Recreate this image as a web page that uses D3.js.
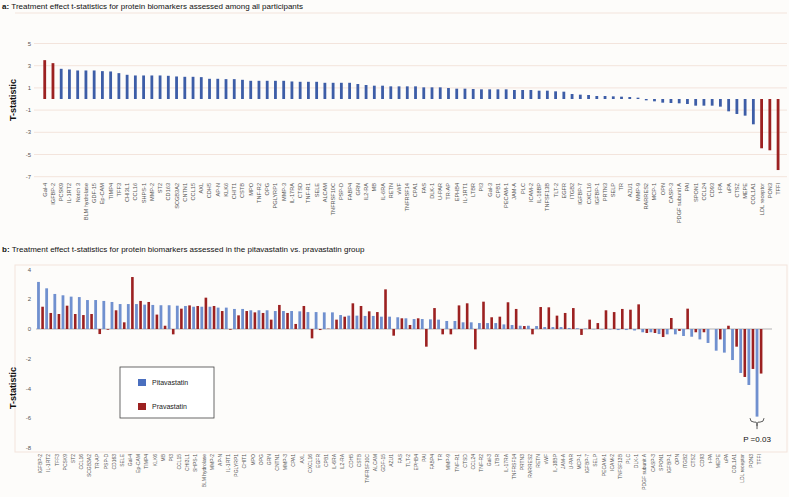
<!DOCTYPE html>
<html><head><meta charset="utf-8">
<script src="https://cdn.jsdelivr.net/npm/d3@7"></script>
<style>html,body{margin:0;padding:0;background:#fdfcfa;}svg{display:block;font-family:"Liberation Sans",Arial,sans-serif;}</style>
</head><body>
<svg id="chart" width="789" height="497"></svg>
<script>
// ---------- Panel a data ----------
const topCategories = ["Gal-4","IGFBP-2","PCSK9","IL-1RT2","Notch 3","BLM hydrolase","GDF-15","Ep-CAM","TIMP4","TFF3",
"CHI3L1","CCL16","SHPS-1","MMP-2","ST2","CD163","SCGB3A2","CNTN1","CCL15","AXL",
"CDH5","AP-N","KLK6","CHIT1","CSTB","MPO","TNF-R2","OPG","PGLYRP1","MMP-3",
"IL-17RA","CTSD","TNF-R1","SELE","ALCAM","TNFRSF10C","PSP-D","FABP4","GRN","IL2-RA",
"MB","IL-6RA","RETN","vWF","TNFRSF14","CPA1","FAS","DLK-1","U-PAR","TR-AP",
"EPHB4","IL-1RT1","LTBR","PI3","Gal-3","CPB1","PECAM-1","JAM-A","PLC","ICAM-2",
"IL-18BP","TNFSF13B","TLT-2","EGFR","ITGB2","IGFBP-7","CXCL16","IGFBP-1","PRTN3","SELP",
"TR","AZU1","MMP-9","RARRES2","MCP-1","OPN","CASP-3","PDGF subunit A","PAI","SPON1",
"CCL24","CD93","t-PA","uPA","CTSZ","MEPE","COL1A1","LDL receptor","PON3","TFFI"];
const topValues = [3.50,3.23,2.72,2.66,2.57,2.57,2.57,2.51,2.48,2.33,
2.18,2.12,2.12,2.12,2.12,2.09,2.03,2.00,2.00,1.97,
1.82,1.82,1.79,1.79,1.73,1.64,1.64,1.64,1.64,1.64,
1.58,1.55,1.55,1.55,1.46,1.46,1.46,1.46,1.35,1.26,
1.20,1.20,1.14,1.14,1.14,1.14,1.05,1.05,1.05,0.99,
0.93,0.93,0.90,0.87,0.87,0.87,0.87,0.81,0.81,0.81,
0.75,0.75,0.69,0.66,0.45,0.39,0.36,0.27,0.27,0.24,
0.21,0.18,0.12,-0.12,-0.21,-0.33,-0.36,-0.39,-0.45,-0.60,
-0.60,-0.60,-0.69,-1.11,-1.35,-1.50,-2.28,-4.44,-4.62,-6.40];
const topSignificant = ["Gal-4","IGFBP-2","LDL receptor","PON3","TFFI"];
const topTicks = [5,3,1,-1,-3,-5,-7];

// ---------- Panel b data ----------
const botCategories = ["IGFBP-2","IL-1RT2","TFF3","PCSK9","ST2","CCL16","SCGB3A2","TR-AP","PSP-D","CD163",
"SELE","Gal-4","Ep-CAM","TIMP4","KLK6","MB","PI3","CCL15","CHI3L1","SHPS-1",
"BLM hydrolase","MMP-2","AP-N","IL-1RT1","PGLYRP1","CHIT1","MPO","OPG","GRN","CNTN1",
"MMP-3","CPA1","AXL","CXCL16","EGFR","CPB1","IL-6RA","IL2-RA","CDH5","CSTB",
"TNFRSF10C","ALCAM","GDF-15","AZU1","FAS","TLT-2","EPHB4","PAI","FABP4","TR",
"MMP-9","TNF-R1","CTSD","CCL24","TNF-R2","Gal-3","LTBR","IL-17RA","TNFRSF14","PRTN3",
"RARRES2","RETN","vWF","IL-18BP","JAM-A","U-PAR","MCP-1","IGFBP-7","SELP","PECAM-1",
"ICAM-2","TNFSF13B","PLC","DLK-1","PDGF subunit A","CASP-3","SPON1","IGFBP-1","OPN","ITGB2",
"CTSZ","CD93","t-PA","MEPE","uPA","COL1A1","LDL receptor","PON3","TFFI"];
const pitavastatin = [3.17,2.74,2.36,2.27,2.18,2.15,1.95,1.95,1.89,1.82,
1.68,1.68,1.68,1.64,1.62,1.60,1.60,1.57,1.55,1.50,
1.50,1.50,1.44,1.44,1.35,1.35,1.26,1.26,1.26,1.21,
1.21,1.21,1.19,1.14,1.14,1.12,1.12,0.94,0.90,0.90,
0.88,0.88,0.83,0.83,0.79,0.72,0.67,0.67,0.65,0.63,
0.54,0.54,0.45,0.45,0.40,0.40,0.40,0.31,0.27,0.22,
0.22,0.20,0.13,0.13,0.13,0.07,0.05,0.03,-0.02,-0.03,
-0.03,-0.07,-0.07,-0.10,-0.22,-0.22,-0.34,-0.36,-0.36,-0.47,
-0.52,-0.70,-0.94,-1.46,-1.59,-2.09,-2.96,-3.77,-5.90];
const pravastatin = [1.50,1.08,1.01,1.57,1.01,0.94,1.01,-0.34,-0.05,1.26,
0.45,3.50,1.89,1.82,0.97,0.22,-0.36,1.37,1.59,1.55,
2.11,1.55,1.21,-0.05,0.92,1.21,1.12,1.08,0.63,1.62,
1.08,0.34,1.55,-0.63,-0.07,0.02,0.63,0.83,1.73,1.55,
1.19,1.14,2.67,-0.45,0.72,0.27,0.72,-1.19,1.41,-0.36,
-0.36,1.59,1.73,-1.37,1.84,0.79,0.83,1.80,1.35,0.20,
-0.36,1.48,1.46,0.90,1.08,1.41,-0.40,0.63,0.40,1.26,
1.14,1.35,1.30,1.66,-0.27,-0.27,-0.54,0.74,-0.13,1.37,
-0.22,-0.22,0.00,-0.70,0.22,-1.19,-3.23,-2.69,-3.00];
const botTicks = [4,2,0,-2,-4,-6,-8];
const seriesNames = ["Pitavastatin","Pravastatin"];
const pAnnotation = "P =0.03";

// ---------- drawing ----------
const svg = d3.select("#chart");
const BLUE = "#3d5da7", RED = "#9c2121", LBLUE = "#7090cf", GRID = "#f3e4dc";

function title(y, tag, text) {
  const t = svg.append("text").attr("x", 2).attr("y", y).attr("font-size", 8).attr("fill", "#111");
  t.append("tspan").attr("font-weight", "bold").text(tag + ": ");
  t.append("tspan").text(text);
}
title(9, "a", "Treatment  effect t-statistics for protein biomarkers assessed among all participants");
title(252, "b", "Treatment effect t-statistics for protein biomarkers assessed in the pitavastatin vs. pravastatin group");

// Panel a
const xA = d3.scaleBand().domain(topCategories).range([40.6, 782.2]);
const yA = d3.scaleLinear().domain([-7, 7]).range([176.7, 21.3]);
svg.append("line").attr("x1", 15).attr("x2", 787).attr("y1", 13).attr("y2", 13).attr("stroke", GRID);
const gA = svg.append("g");
gA.selectAll("line.grid").data(topTicks).join("line").attr("class", "grid")
  .attr("x1", 34).attr("x2", 787).attr("y1", d => yA(d)).attr("y2", d => yA(d))
  .attr("stroke", GRID).attr("stroke-width", 1);
gA.selectAll("text.tick").data(topTicks).join("text").attr("class", "tick")
  .attr("x", 31).attr("y", d => yA(d)).attr("dy", "0.35em").attr("text-anchor", "end")
  .attr("font-size", 6).attr("fill", "#555").text(d => d);
gA.selectAll("rect.bar").data(topCategories).join("rect").attr("class", "bar")
  .attr("x", d => xA(d) + xA.bandwidth() / 2 - 1.4).attr("width", 2.8)
  .attr("y", (d, i) => yA(Math.max(0, topValues[i])))
  .attr("height", (d, i) => Math.abs(yA(topValues[i]) - yA(0)))
  .attr("fill", d => topSignificant.includes(d) ? RED : BLUE);
gA.selectAll("text.xl").data(topCategories).join("text").attr("class", "xl")
  .attr("transform", d => `translate(${xA(d) + xA.bandwidth() / 2},183) rotate(-90)`)
  .attr("dy", "0.35em").attr("text-anchor", "end").attr("font-size", 5.6).attr("fill", "#555").text(d => d);
svg.append("text").attr("transform", "translate(16,100) rotate(-90)").attr("text-anchor", "middle")
  .attr("font-size", 9).attr("font-weight", "bold").attr("fill", "#111").text("T-statistic");

// Panel b
const xB = d3.scaleBand().domain(botCategories).range([36.4, 763.1]);
const yB = d3.scaleLinear().domain([-8, 4]).range([447.8, 269.6]);
const gB = svg.append("g");
gB.append("rect").attr("x", 15).attr("y", 265).attr("width", 772).attr("height", 187)
  .attr("fill", "none").attr("stroke", GRID);
gB.selectAll("text.tick").data(botTicks).join("text").attr("class", "tick")
  .attr("x", 31).attr("y", d => yB(d)).attr("dy", "0.35em").attr("text-anchor", "end")
  .attr("font-size", 6).attr("fill", "#555").text(d => d);
gB.append("line").attr("x1", 36).attr("x2", 772).attr("y1", yB(0)).attr("y2", yB(0))
  .attr("stroke", "#cbcbcb").attr("stroke-width", 1.6);
gB.selectAll("rect.pit").data(botCategories).join("rect").attr("class", "pit")
  .attr("x", d => xB(d) + xB.bandwidth() / 2 - 3.4).attr("width", 2.8)
  .attr("y", (d, i) => yB(Math.max(0, pitavastatin[i])))
  .attr("height", (d, i) => Math.abs(yB(pitavastatin[i]) - yB(0)))
  .attr("fill", LBLUE);
gB.selectAll("rect.pra").data(botCategories).join("rect").attr("class", "pra")
  .attr("x", d => xB(d) + xB.bandwidth() / 2 + 0.8).attr("width", 2.6)
  .attr("y", (d, i) => yB(Math.max(0, pravastatin[i])))
  .attr("height", (d, i) => Math.abs(yB(pravastatin[i]) - yB(0)))
  .attr("fill", RED);
gB.selectAll("text.xl").data(botCategories).join("text").attr("class", "xl")
  .attr("transform", d => `translate(${xB(d) + xB.bandwidth() / 2},454) rotate(-90)`)
  .attr("dy", "0.35em").attr("text-anchor", "end").attr("font-size", 5).attr("fill", "#555").text(d => d);
svg.append("text").attr("transform", "translate(16,388) rotate(-90)").attr("text-anchor", "middle")
  .attr("font-size", 9).attr("font-weight", "bold").attr("fill", "#111").text("T-statistic");

// Legend
const leg = svg.append("g").attr("transform", "translate(120,367)");
leg.append("rect").attr("width", 94).attr("height", 51).attr("fill", "#fff").attr("stroke", "#444").attr("stroke-width", 0.8);
seriesNames.forEach((s, i) => {
  leg.append("rect").attr("x", 18).attr("y", 12 + i * 24).attr("width", 8).attr("height", 7).attr("fill", i ? RED : "#4a6fbf");
  leg.append("text").attr("x", 32).attr("y", 18 + i * 24).attr("font-size", 7).attr("fill", "#222").text(s);
});

// P annotation under TFFI pitavastatin bar
const last = botCategories[botCategories.length - 1];
const bx = xB(last) + xB.bandwidth() / 2 - 2;
const by = yB(pitavastatin[pitavastatin.length - 1]) + 1.5;
svg.append("path")
  .attr("d", `M${bx-7},${by} Q${bx-7},${by+4} ${bx-3},${by+4} L${bx-1},${by+4} Q${bx},${by+4} ${bx},${by+8} Q${bx},${by+4} ${bx+1},${by+4} L${bx+3},${by+4} Q${bx+7},${by+4} ${bx+7},${by}`)
  .attr("fill", "none").attr("stroke", "#333").attr("stroke-width", 0.8);
svg.append("line").attr("x1", bx).attr("x2", bx).attr("y1", by + 8).attr("y2", by + 11).attr("stroke", "#333").attr("stroke-width", 0.8);
svg.append("text").attr("x", bx).attr("y", by + 24).attr("text-anchor", "middle").attr("font-size", 8).attr("fill", "#111").text(pAnnotation);
</script>
</body></html>
